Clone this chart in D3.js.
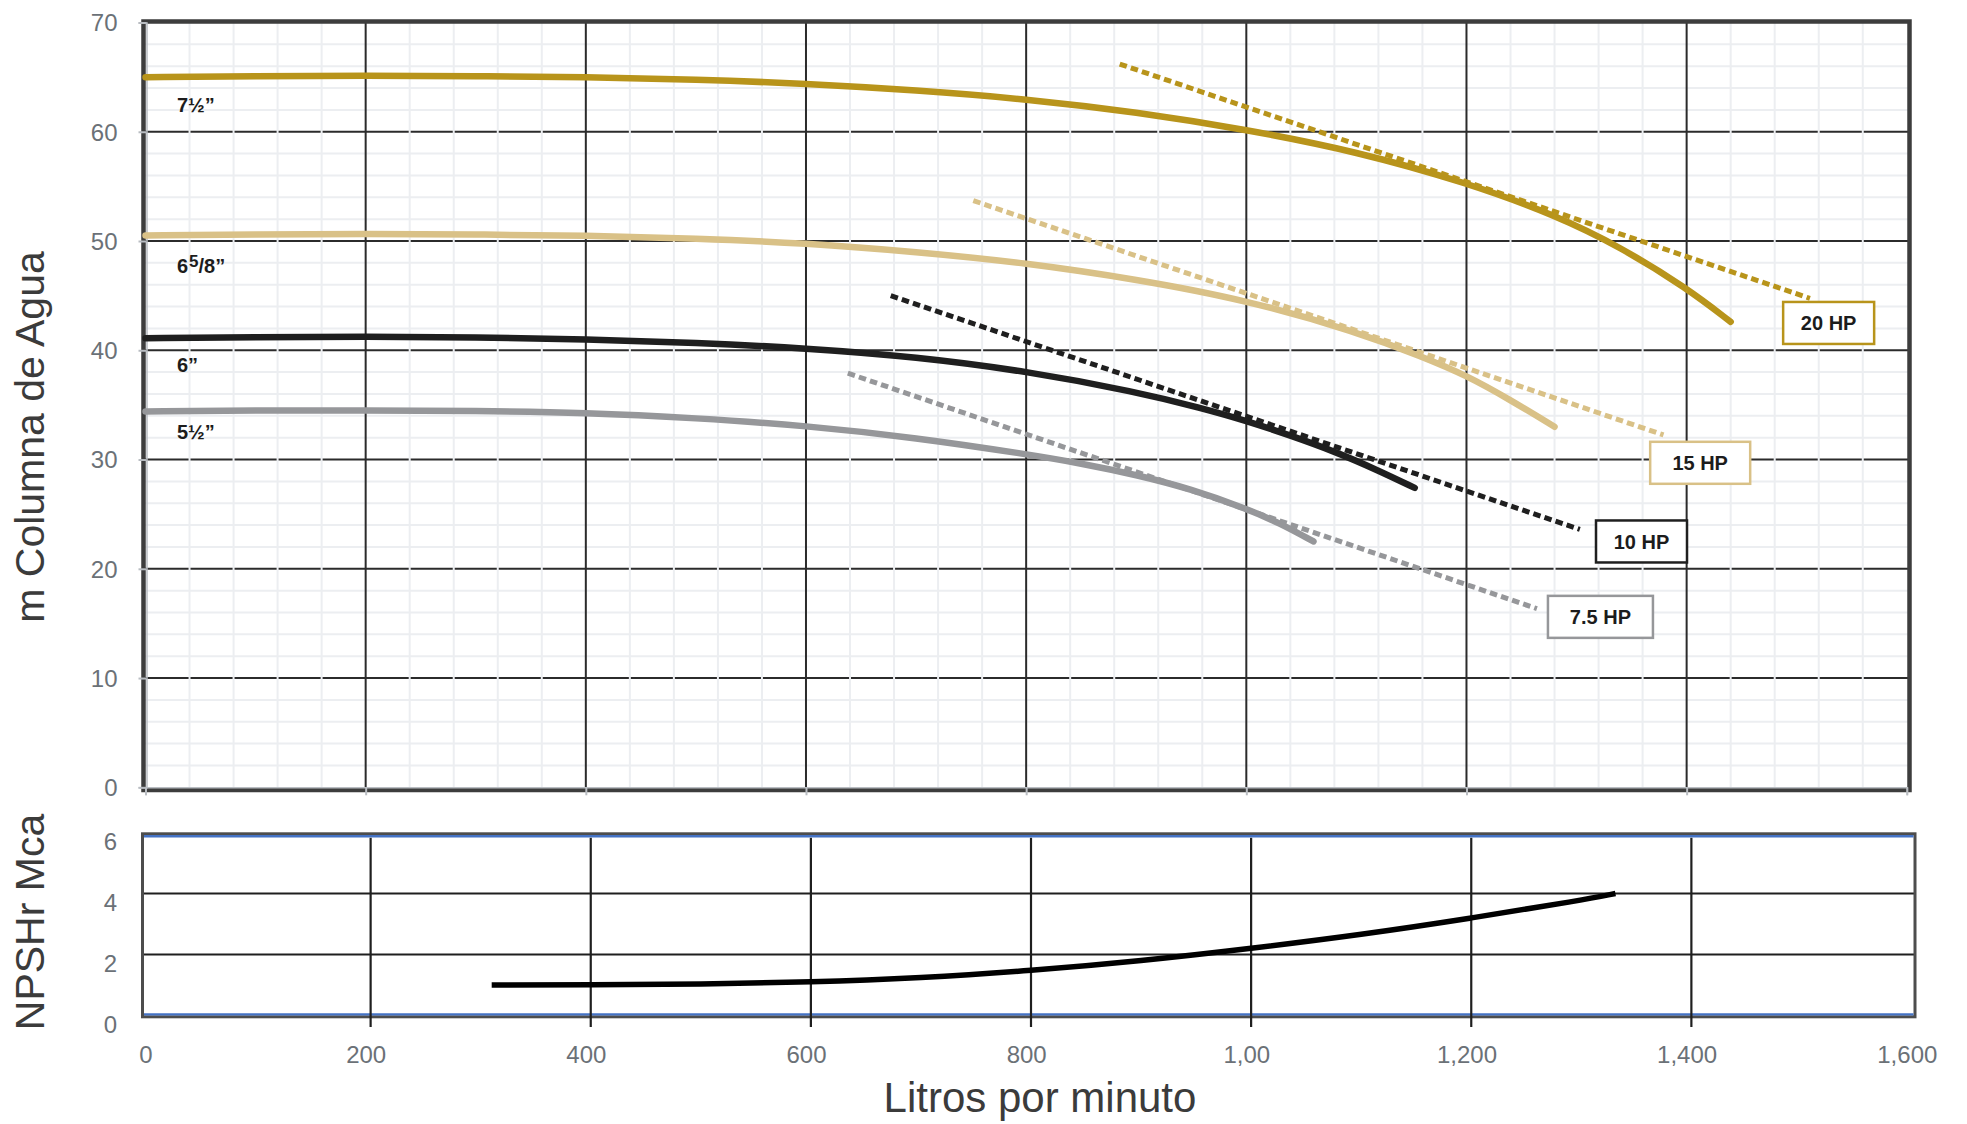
<!DOCTYPE html>
<html><head><meta charset="utf-8">
<script src="https://cdn.jsdelivr.net/npm/d3@7"></script>
<style>
html,body{margin:0;padding:0;background:#fff;}
svg{display:block;font-family:"Liberation Sans",Arial,Helvetica,sans-serif;}
</style>
</head><body>
<svg id="chart" width="1967" height="1124"></svg>
<script>
// ---------------- DATA ----------------
// Head curves (m) vs flow (L/min) for each impeller diameter
const flow7_5in = [0,100,200,300,400,500,600,700,800,900,1000,1100,1200,1280,1340,1400,1440];
const head7_5in = [65.0,65.1,65.15,65.1,65.0,64.8,64.4,63.8,63.0,61.8,60.2,58.2,55.35,52.4,49.45,45.7,42.6];
const flow6_58in = [0,100,200,300,400,500,600,700,800,900,1000,1100,1160,1200,1240,1280];
const head6_58in = [50.5,50.6,50.65,50.6,50.5,50.25,49.8,49.0,48.0,46.5,44.6,41.7,39.4,37.7,35.45,33.0];
const flow6in = [0,100,200,300,400,500,600,700,800,900,960,1000,1040,1080,1120,1153];
const head6in = [41.1,41.2,41.25,41.2,41.0,40.7,40.2,39.4,38.1,36.2,34.7,33.55,32.2,30.75,29.0,27.4];
const flow5_5in = [0,100,200,300,400,500,600,700,800,850,900,950,1000,1030,1061];
const head5_5in = [34.4,34.5,34.5,34.45,34.3,33.8,33.1,32.0,30.5,29.65,28.6,27.3,25.5,24.2,22.5];
const curveLabels = ["7½”","6^5/8”","6”","5½”"];
const curveLabelHead = [61.84,47.1,38.05,31.87];
const curveLabelFlow = 28.6;

// Horsepower lines (start / end points)
const hpLabels = ["7.5 HP","10 HP","15 HP","20 HP"];
const hpFlowStart = [638,677,752,885];
const hpHeadStart = [37.9,45.0,53.7,66.2];
const hpFlowEnd = [1264,1303,1379,1512];
const hpHeadEnd = [16.35,23.6,32.25,44.75];
const hpBoxFlow = [1321.7,1359,1412.3,1529];
const hpBoxHead = [15.6,22.5,29.7,42.5];

// NPSHr curve
const npshFlow = [310,400,500,600,700,800,900,1000,1100,1200,1300,1331];
const npshValue = [1.0,1.01,1.03,1.09,1.23,1.47,1.79,2.2,2.65,3.19,3.78,4.0];

// Ticks
const headTicks = [0,10,20,30,40,50,60,70];
const npshTicks = [0,2,4,6];
const flowTicks = [0,200,400,600,800,1000,1200,1400,1600];
const flowTickLabels = ["0","200","400","600","800","1,00","1,200","1,400","1,600"];

// ---------------- STYLE ----------------
const curveColors = ["#b8941b","#d9c187","#1f1f1f","#96979a"];
const hpColors = ["#96979a","#1f1f1f","#d9c187","#b8941b"];
const hpBoxW = [105,91,100,91];
const labelGray = "#6b7177";

const svg = d3.select("#chart");

// ---------------- SCALES ----------------
const x = d3.scaleLinear().domain([0,1600]).range([145.5,1906.8]);
const y = d3.scaleLinear().domain([0,70]).range([787.3,22.5]);
const xb = d3.scaleLinear().domain([0,1600]).range([150.5,1911.5]);
const yb = d3.scaleLinear().domain([0,6]).range([1015.5,832.5]);

const F = {l:143.5, r:1909.5, t:21.5, b:790};

// ---------------- TOP CHART GRID ----------------
const grid = svg.append("g");
const minorY = d3.range(2,70,2).filter(d=>d%10!==0);
const majorY = d3.range(10,70,10);
const minorX = d3.range(40,1600,40).filter(d=>d%200!==0);
const majorX = d3.range(200,1600,200);

grid.append("g").selectAll("line").data(minorY).join("line")
  .attr("x1",F.l).attr("x2",F.r).attr("y1",d=>y(d)).attr("y2",d=>y(d))
  .attr("stroke","#eceef1").attr("stroke-width",2);
grid.append("g").selectAll("line").data(majorY).join("line")
  .attr("x1",F.l).attr("x2",F.r).attr("y1",d=>y(d)).attr("y2",d=>y(d))
  .attr("stroke","#2b2b2b").attr("stroke-width",2);
grid.append("g").selectAll("line").data(minorX).join("line")
  .attr("x1",d=>x(d)).attr("x2",d=>x(d)).attr("y1",F.t).attr("y2",F.b)
  .attr("stroke","#eceef1").attr("stroke-width",2);
grid.append("g").selectAll("line").data(majorX).join("line")
  .attr("x1",d=>x(d)).attr("x2",d=>x(d)).attr("y1",F.t).attr("y2",F.b)
  .attr("stroke","#2b2b2b").attr("stroke-width",2);

// frame
svg.append("rect").attr("x",F.l).attr("y",F.t).attr("width",F.r-F.l).attr("height",F.b-F.t)
  .attr("fill","none").attr("stroke","#3d3d3d").attr("stroke-width",4.5);

// axes (light gray ticks)
const yAxis = svg.append("g").attr("transform",`translate(${x(0)+1},0)`)
  .call(d3.axisLeft(y).tickValues(headTicks).tickSize(8).tickPadding(20).tickFormat(d3.format("d")));
yAxis.select(".domain").attr("stroke","#b9bdc2").attr("stroke-width",1.5);
yAxis.selectAll(".tick line").attr("stroke","#b9bdc2").attr("stroke-width",2);
yAxis.selectAll(".tick text").attr("fill",labelGray).attr("font-size",24)
  .attr("x",-29).attr("dy","0.35em").attr("font-family","Liberation Sans, Arial, sans-serif");

const xAxisTop = svg.append("g").attr("transform",`translate(0,${y(0)})`)
  .call(d3.axisBottom(x).tickValues(flowTicks).tickSize(8).tickFormat(""));
xAxisTop.select(".domain").attr("stroke","#b9bdc2").attr("stroke-width",1.5);
xAxisTop.selectAll(".tick line").attr("stroke","#b9bdc2").attr("stroke-width",2);

// ---------------- CURVES ----------------
const line = d3.line().x(d=>x(d[0])).y(d=>y(d[1])).curve(d3.curveBasis);
const curves = [
  d3.zip(flow7_5in, head7_5in),
  d3.zip(flow6_58in, head6_58in),
  d3.zip(flow6in, head6in),
  d3.zip(flow5_5in, head5_5in)
];
svg.append("g").selectAll("path").data(curves).join("path")
  .attr("d",line).attr("fill","none")
  .attr("stroke",(d,i)=>curveColors[i]).attr("stroke-width",6.5)
  .attr("stroke-linecap","round").attr("stroke-linejoin","round");

// HP dotted lines
const hpLine = d3.line().x(d=>x(d[0])).y(d=>y(d[1]));
const hpData = hpLabels.map((l,i)=>[[hpFlowStart[i],hpHeadStart[i]],[hpFlowEnd[i],hpHeadEnd[i]]]);
svg.append("g").selectAll("path").data(hpData).join("path")
  .attr("d",hpLine).attr("fill","none")
  .attr("stroke",(d,i)=>hpColors[i]).attr("stroke-width",5)
  .attr("stroke-dasharray","7.5,4.2");

// curve labels
const cl = svg.append("g").attr("font-weight","bold").attr("font-size",20).attr("fill","#1c1c1c");
curveLabels.forEach((lab,i)=>{
  const t = cl.append("text").attr("x",x(curveLabelFlow)).attr("y",y(curveLabelHead[i]));
  if(lab.includes("^")){
    const parts = lab.split("^");
    t.append("tspan").text(parts[0]);
    t.append("tspan").attr("font-size",17).attr("dx",1).attr("dy",-6).text(parts[1][0]);
    t.append("tspan").attr("font-size",20).attr("dy",6).text(parts[1].slice(1));
  } else t.text(lab);
});

// HP boxes
const hb = svg.append("g");
hpLabels.forEach((lab,i)=>{
  const cx = x(hpBoxFlow[i]), cy = y(hpBoxHead[i]);
  const w = hpBoxW[i], h = 42;
  hb.append("rect").attr("x",cx-w/2).attr("y",cy-h/2).attr("width",w).attr("height",h)
    .attr("fill","#fff").attr("stroke",hpColors[i]).attr("stroke-width",2.5);
  hb.append("text").attr("x",cx).attr("y",cy).attr("dy","0.36em").attr("text-anchor","middle")
    .attr("font-weight","bold").attr("font-size",20).attr("fill","#1c1c1c").text(lab);
});

// ---------------- BOTTOM CHART ----------------
const B = {l:142.5, r:1915, t:833.8, b:1016.8};
const bg = svg.append("g");
bg.selectAll("line.h").data([2,4]).join("line").attr("class","h")
  .attr("x1",B.l).attr("x2",B.r).attr("y1",d=>yb(d)).attr("y2",d=>yb(d))
  .attr("stroke","#1f1f1f").attr("stroke-width",2.2);
bg.append("rect").attr("x",B.l).attr("y",B.t).attr("width",B.r-B.l).attr("height",B.b-B.t)
  .attr("fill","none").attr("stroke","#4d4d4d").attr("stroke-width",3);
bg.selectAll("line.blue").data([6,0]).join("line").attr("class","blue")
  .attr("x1",B.l+1.5).attr("x2",B.r-1.5).attr("y1",(d,i)=>i===0?B.t+2.4:B.b-2.4).attr("y2",(d,i)=>i===0?B.t+2.4:B.b-2.4)
  .attr("stroke","#4472c4").attr("stroke-width",2.4);
bg.selectAll("line.v").data(majorX).join("line").attr("class","v")
  .attr("x1",d=>xb(d)).attr("x2",d=>xb(d)).attr("y1",B.t+4).attr("y2",1027)
  .attr("stroke","#1f1f1f").attr("stroke-width",2.2);

const npshLine = d3.line().x(d=>xb(d[0])).y(d=>yb(d[1])).curve(d3.curveBasis);
svg.append("path").datum(d3.zip(npshFlow,npshValue)).attr("d",npshLine)
  .attr("fill","none").attr("stroke","#000").attr("stroke-width",5.5);

const ybAxis = svg.append("g").attr("transform",`translate(117,9)`)
  .call(d3.axisLeft(yb).tickValues(npshTicks).tickSize(0).tickPadding(0).tickFormat(d3.format("d")));
ybAxis.select(".domain").remove();
ybAxis.selectAll(".tick text").attr("fill",labelGray).attr("font-size",24).attr("dy","0.35em")
  .attr("font-family","Liberation Sans, Arial, sans-serif");

const xAxisBottom = svg.append("g").attr("transform",`translate(0,1046)`)
  .call(d3.axisBottom(x).tickValues(flowTicks).tickSize(0).tickPadding(0)
    .tickFormat((d,i)=>flowTickLabels[i]));
xAxisBottom.select(".domain").remove();
xAxisBottom.selectAll(".tick text").attr("fill",labelGray).attr("font-size",24).attr("dy","0.72em")
  .attr("font-family","Liberation Sans, Arial, sans-serif");

// ---------------- TITLES ----------------
svg.append("text").attr("transform","translate(44,437) rotate(-90)").attr("text-anchor","middle")
  .attr("font-size",41).attr("fill","#3b3b3b").text("m Columna de Agua");
svg.append("text").attr("transform","translate(44,922) rotate(-90)").attr("text-anchor","middle")
  .attr("font-size",41).attr("fill","#3b3b3b").text("NPSHr Mca");
svg.append("text").attr("x",1040).attr("y",1112).attr("text-anchor","middle")
  .attr("font-size",42).attr("fill","#3b3b3b").text("Litros por minuto");
</script>
</body></html>
